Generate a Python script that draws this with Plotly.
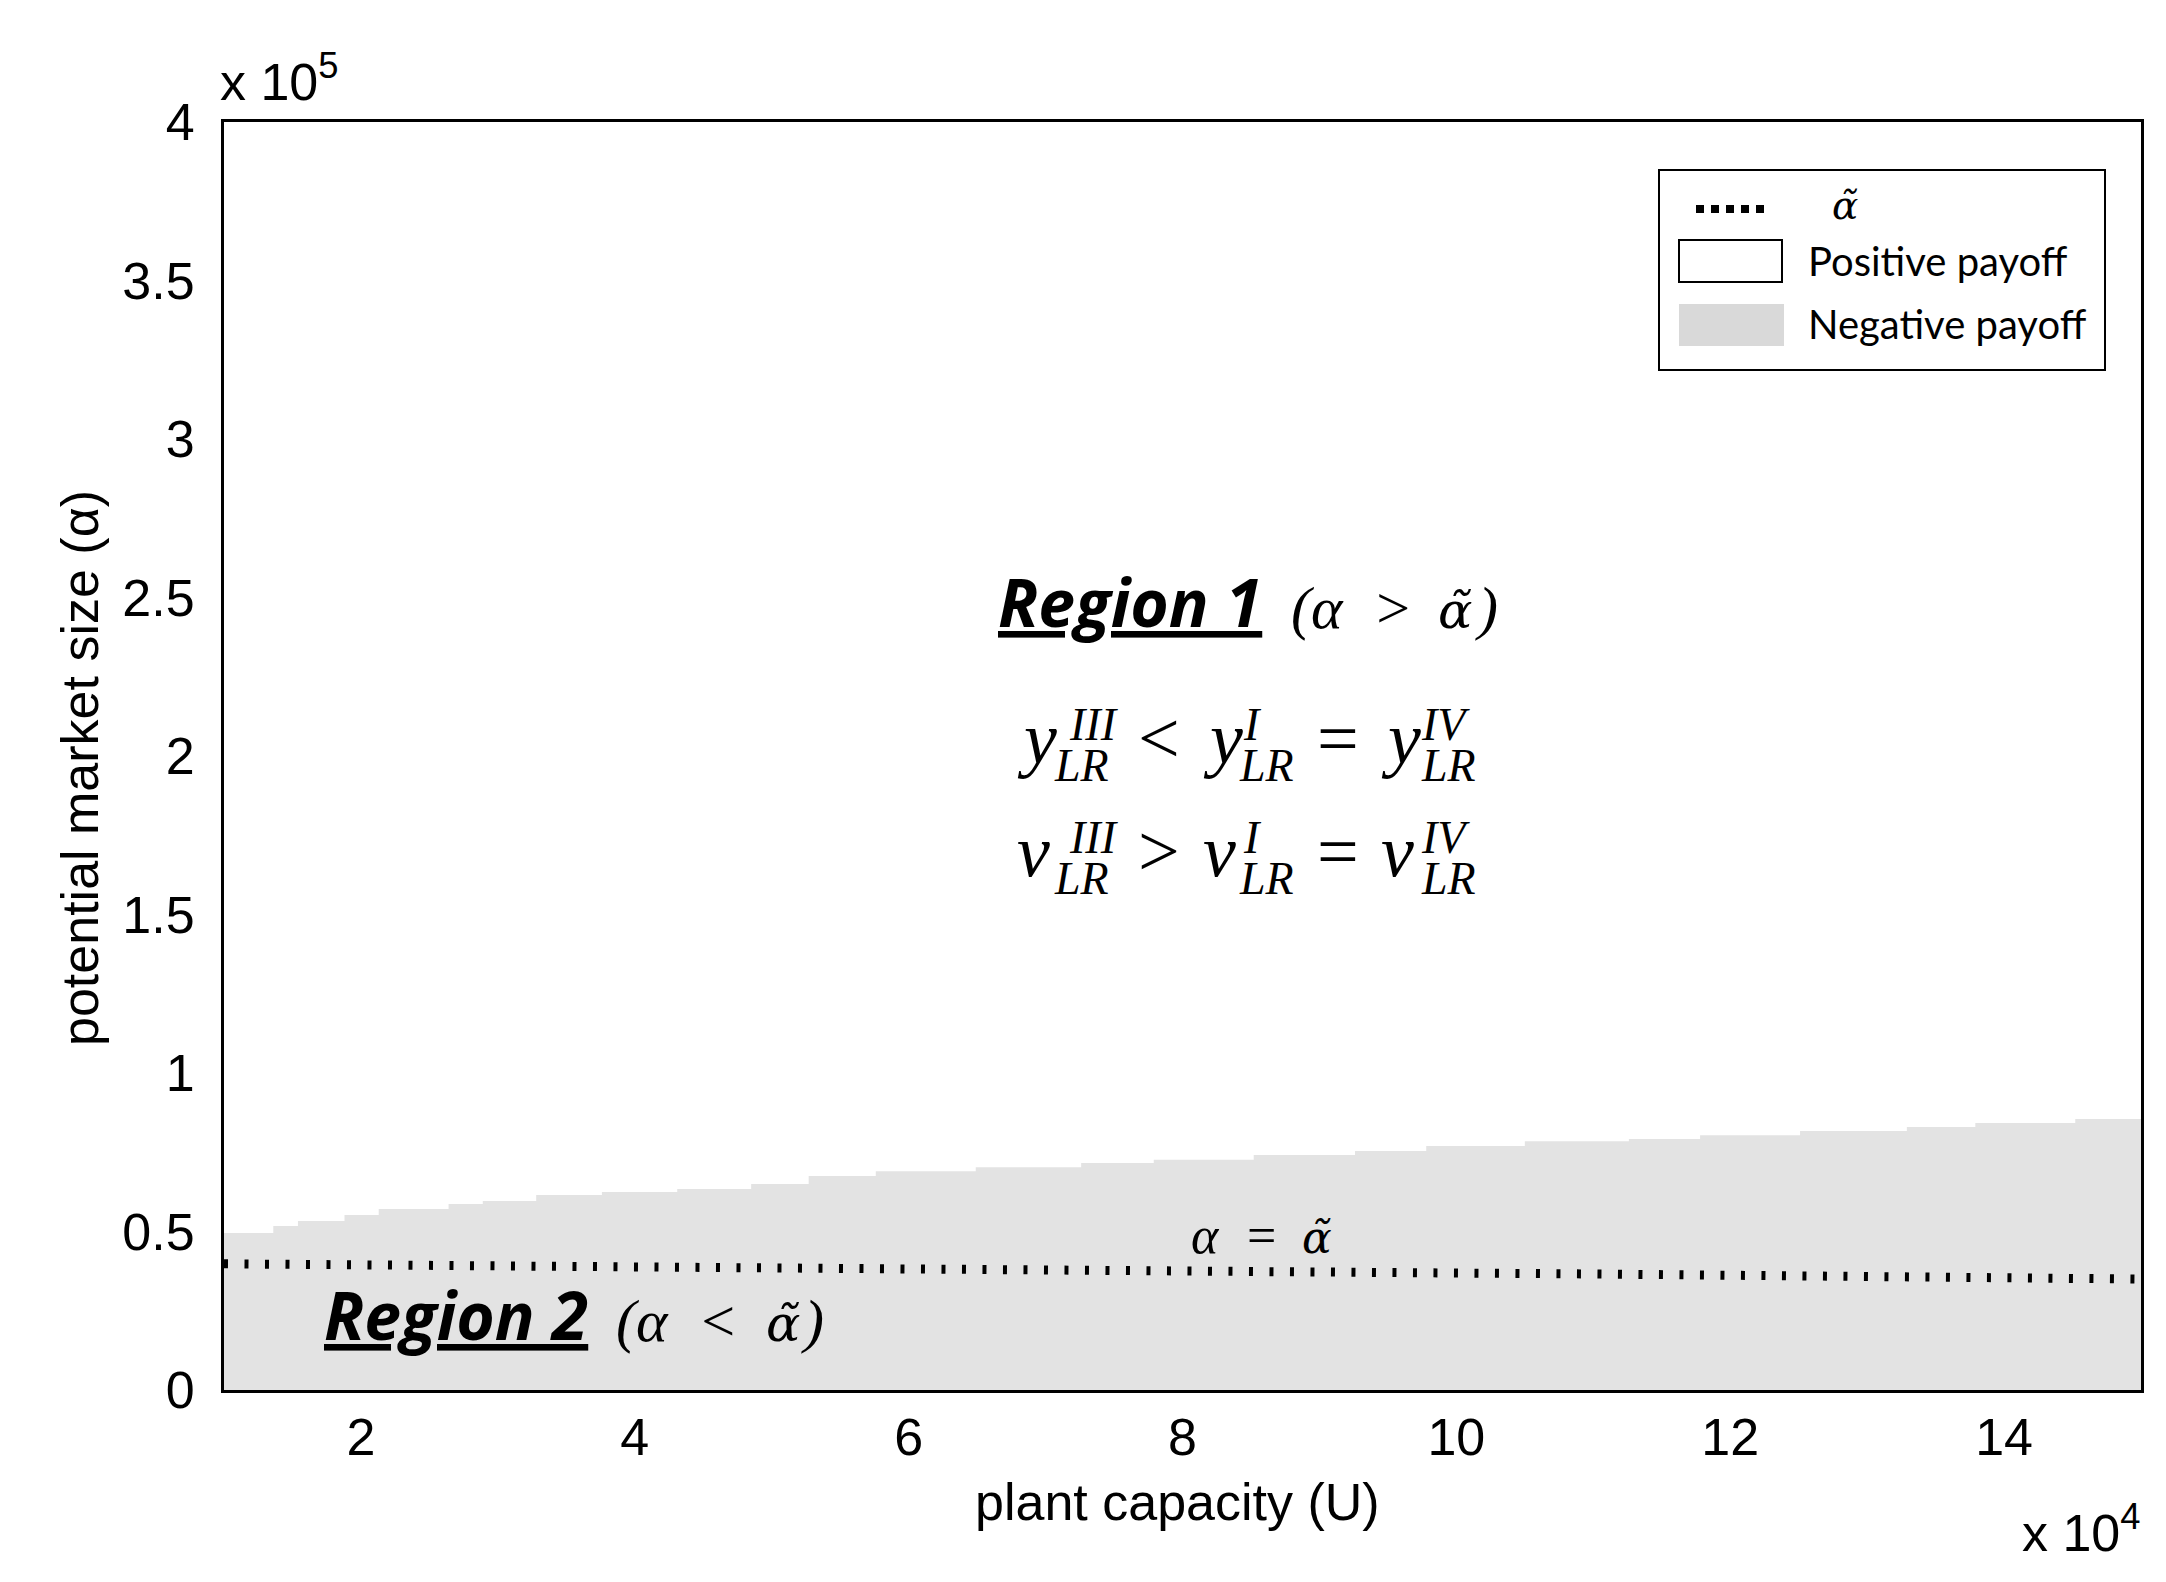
import plotly.graph_objects as go

# ---------------- data (x in units of 10^4, y in units of 10^5) ----------------
U_steps = [1.0, 1.36, 1.54, 1.88, 2.13, 2.64, 2.89, 3.28, 3.76, 4.31, 4.85, 5.27,
           5.76, 6.49, 7.26, 7.79, 8.52, 9.26, 9.78, 10.5, 11.26, 11.78, 12.51,
           13.29, 13.79, 14.52, 15.0]
neg_payoff_upper = [0.495, 0.517, 0.533, 0.552, 0.571, 0.587, 0.596, 0.615, 0.625,
                    0.634, 0.650, 0.675, 0.690, 0.703, 0.716, 0.726, 0.741, 0.754,
                    0.770, 0.785, 0.792, 0.804, 0.817, 0.830, 0.842, 0.855, 0.855]
U_tilde = [1, 2, 3, 4, 5, 6, 7, 8, 9, 10, 11, 12, 13, 14, 15]
alpha_tilde = [0.398, 0.394, 0.390, 0.387, 0.384, 0.381, 0.378, 0.375, 0.372,
               0.369, 0.366, 0.362, 0.358, 0.354, 0.350]
x_tickvals = [2, 4, 6, 8, 10, 12, 14]
x_ticktext = ["2", "4", "6", "8", "10", "12", "14"]
y_tickvals = [0, 0.5, 1, 1.5, 2, 2.5, 3, 3.5, 4]
y_ticktext = ["0", "0.5", "1", "1.5", "2", "2.5", "3", "3.5", "4"]

W, H = 2166, 1582
L, R, T, B = 216, 2133, 114, 1382

SANS = "Liberation Sans, Arial"
SERIF = "Liberation Serif, Times New Roman"
DJS = "DejaVu Serif"
BOLDF = "Open Sans, Noto Sans, Calibri"
CAL = "Lato, Carlito, Calibri"
GREY = "#e3e3e3"


def px(x):
    return (x - L) / (R - L)


def py(y):
    return (B - y) / (B - T)


fig = go.Figure()

fig.add_trace(go.Scatter(
    x=U_steps, y=neg_payoff_upper, mode="lines", line_shape="hv",
    line=dict(width=0, color=GREY), fill="tozeroy", fillcolor=GREY,
    showlegend=False, hoverinfo="skip"))

fig.add_trace(go.Scatter(
    x=U_tilde, y=alpha_tilde, mode="lines",
    line=dict(color="black", width=9, dash="4px,16.5px"),
    showlegend=False, hoverinfo="skip"))

annotations = []


def text(t, x, base, size, family, xanchor="left", descent=0.216, angle=0):
    annotations.append(dict(
        text=t, xref="paper", yref="paper", x=px(x), y=py(base + descent * size),
        xanchor=xanchor, yanchor="bottom", showarrow=False, textangle=angle,
        font=dict(size=size, family=family, color="black"), borderpad=0, borderwidth=0))


def atilde(cx, base, size):
    # alpha with combining tilde, DejaVu Serif handles the mark placement
    text("<i>α\u0303</i>", cx, base, int(size * 0.86), DJS, xanchor="center", descent=0.236)


# exponent labels
text("x 10<sup>5</sup>", 212, 92, 52, SANS)
text("x 10<sup>4</sup>", 2014, 1543, 52, SANS)

# axis titles
text("plant capacity (U)", 1169, 1512, 52, SANS, xanchor="center")
annotations.append(dict(
    text="potential market size (α)", xref="paper", yref="paper",
    x=px(72), y=py(760), xanchor="center", yanchor="middle", showarrow=False,
    textangle=-90, font=dict(size=52, family=SANS, color="black")))

# Region 1
text("<u><b><i>Region 1</i></b></u>", 990, 620, 66, BOLDF, descent=0.27)
text("<i>(α\u2002>\u2002</i>", 1283, 620, 60, SERIF)
atilde(1447, 620, 60)
text("<i>)</i>", 1490, 620, 60, SERIF, xanchor="right")

# Region 2
text("<u><b><i>Region 2</i></b></u>", 316, 1333, 66, BOLDF, descent=0.27)
text("<i>(α\u2002<\u2002</i>", 608, 1333, 60, SERIF)
atilde(775, 1333, 60)
text("<i>)</i>", 816, 1333, 60, SERIF, xanchor="right")

# alpha = alpha tilde label
text("<i>α</i>", 1197, 1245, 52, SERIF, xanchor="center")
text("=", 1253, 1245, 52, SERIF, xanchor="center")
atilde(1309, 1245, 52)

# equations
BASE_SZ, SCR_SZ = 74, 46
for base_line, letter, rel in [(755, "y", "<"), (868, "v", ">")]:
    sup_b = base_line - 23
    sub_b = base_line + 18
    terms = [(1009, 1061, 1046, "III"), (1195, 1235, 1231, "I"), (1373, 1413, 1413, "IV")]
    for bx, supx, subx, sup in terms:
        text("<i>%s</i>" % letter, bx, base_line, BASE_SZ, SERIF)
        text("<i>%s</i>" % sup, supx, sup_b, SCR_SZ, SERIF)
        text("<i>LR</i>", subx, sub_b, SCR_SZ, SERIF)
    text(rel, 1151, base_line, BASE_SZ, SERIF, xanchor="center")
    text("=", 1330, base_line, BASE_SZ, SERIF, xanchor="center")

# legend (drawn)
shapes = [
    dict(type="rect", xref="paper", yref="paper", x0=px(1651), x1=px(2097),
         y0=py(362), y1=py(162), line=dict(color="black", width=2), fillcolor="white"),
    dict(type="line", xref="paper", yref="paper", x0=px(1688), x1=px(1760),
         y0=py(201), y1=py(201), line=dict(color="black", width=8, dash="8px,7px")),
    dict(type="rect", xref="paper", yref="paper", x0=px(1671), x1=px(1774),
         y0=py(274), y1=py(232), line=dict(color="black", width=2), fillcolor="white"),
    dict(type="rect", xref="paper", yref="paper", x0=px(1671), x1=px(1776),
         y0=py(338), y1=py(296), line=dict(width=0), fillcolor="#d9d9d9"),
]
atilde(1837, 211, 46)
text("Positive payoff", 1800, 268, 40, CAL, descent=0.213)
text("Negative payoff", 1800, 331, 40, CAL, descent=0.213)

fig.update_layout(
    width=W, height=H,
    margin=dict(l=L, r=W - R, t=T, b=H - B, autoexpand=False),
    paper_bgcolor="white", plot_bgcolor="white",
    showlegend=False,
    annotations=annotations, shapes=shapes,
    xaxis=dict(range=[1, 15], showline=True, mirror=True, linecolor="black",
               linewidth=3, showgrid=False, zeroline=False,
               tickvals=x_tickvals, ticktext=x_ticktext, ticks="",
               tickfont=dict(size=52, family=SANS, color="black")),
    yaxis=dict(range=[0, 4], showline=True, mirror=True, linecolor="black",
               linewidth=3, showgrid=False, zeroline=False,
               tickvals=y_tickvals, ticktext=y_ticktext, ticks="outside",
               ticklen=16, tickcolor="rgba(0,0,0,0)",
               tickfont=dict(size=52, family=SANS, color="black")),
)

fig.write_html("out.html")
